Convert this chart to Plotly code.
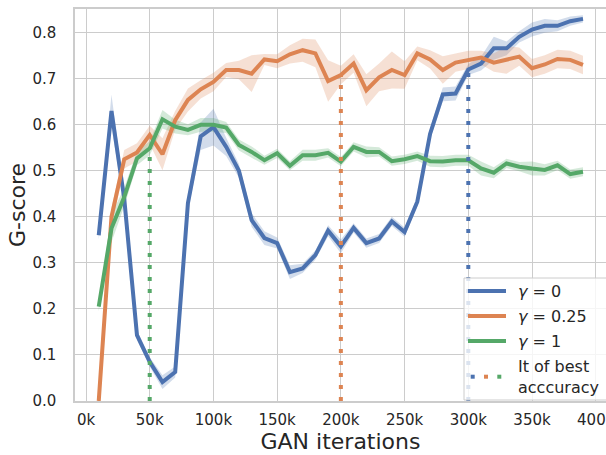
import plotly.graph_objects as go

iterations = [10000 * i for i in range(1, 40)]

g0 = [0.36, 0.63, 0.44, 0.143, 0.085, 0.041, 0.063, 0.43, 0.575, 0.595, 0.552, 0.50, 0.393,
      0.354, 0.343, 0.28, 0.288, 0.317, 0.37, 0.336, 0.376, 0.343, 0.353, 0.39, 0.367, 0.433,
      0.58, 0.666, 0.668, 0.72, 0.733, 0.766, 0.766, 0.791, 0.807, 0.815, 0.815, 0.825, 0.83]
g025 = [0.0, 0.40, 0.525, 0.54, 0.578, 0.536, 0.61, 0.654, 0.677, 0.693, 0.719, 0.719, 0.711,
        0.742, 0.738, 0.753, 0.762, 0.755, 0.695, 0.708, 0.733, 0.675, 0.703, 0.719, 0.708, 0.755,
        0.742, 0.719, 0.735, 0.741, 0.746, 0.735, 0.741, 0.748, 0.723, 0.731, 0.743, 0.741, 0.73]
g1 = [0.205, 0.375, 0.443, 0.527, 0.549, 0.612, 0.596, 0.589, 0.6, 0.6, 0.594, 0.556, 0.541,
      0.523, 0.538, 0.511, 0.534, 0.534, 0.539, 0.52, 0.552, 0.541, 0.541, 0.521, 0.525, 0.532,
      0.521, 0.52, 0.523, 0.523, 0.505, 0.496, 0.516, 0.509, 0.505, 0.502, 0.512, 0.493, 0.498]

g0_ci = [0.01, 0.035, 0.015, 0.01, 0.01, 0.015, 0.012, 0.015, 0.03, 0.04, 0.02, 0.015, 0.015,
         0.015, 0.012, 0.015, 0.01, 0.01, 0.012, 0.015, 0.01, 0.01, 0.01, 0.01, 0.01, 0.01,
         0.012, 0.015, 0.015, 0.012, 0.015, 0.025, 0.015, 0.012, 0.015, 0.015, 0.012, 0.01, 0.008]
g025_ci = [0.005, 0.02, 0.02, 0.02, 0.02, 0.035, 0.02, 0.025, 0.02, 0.02, 0.015, 0.02, 0.04,
           0.012, 0.015, 0.02, 0.025, 0.03, 0.045, 0.02, 0.02, 0.035, 0.03, 0.04, 0.03, 0.015,
           0.02, 0.03, 0.02, 0.02, 0.015, 0.02, 0.03, 0.02, 0.02, 0.02, 0.02, 0.02, 0.02]
g1_ci = [0.01, 0.03, 0.02, 0.015, 0.015, 0.02, 0.015, 0.012, 0.015, 0.015, 0.012, 0.012, 0.012,
         0.01, 0.01, 0.01, 0.012, 0.012, 0.01, 0.01, 0.01, 0.012, 0.01, 0.01, 0.01, 0.01,
         0.012, 0.012, 0.012, 0.012, 0.015, 0.012, 0.01, 0.01, 0.015, 0.012, 0.01, 0.01, 0.01]

labels = ["<i>γ</i> = 0", "<i>γ</i> = 0.25", "<i>γ</i> = 1"]
best_it = [300000, 200000, 50000]
best_label = "It of best<br>acccuracy"

x_tickvals = [0, 50000, 100000, 150000, 200000, 250000, 300000, 350000, 400000]
x_ticktext = ["0k", "50k", "100k", "150k", "200k", "250k", "300k", "350k", "400k"]
y_tickvals = [0.0, 0.1, 0.2, 0.3, 0.4, 0.5, 0.6, 0.7, 0.8]

colors = ["#4C72B0", "#DD8452", "#55A868"]
bands = ["rgba(76,114,176,0.25)", "rgba(221,132,82,0.25)", "rgba(85,168,104,0.25)"]
series = [g0, g025, g1]
cis = [g0_ci, g025_ci, g1_ci]

W, H = 606, 455
ML, MR, MT, MB = 75, 0, 9, 54
PW, PH = W - ML - MR, H - MT - MB

fig = go.Figure()

for s, ci, bc in zip(series, cis, bands):
    upper = [v + c for v, c in zip(s, ci)]
    lower = [v - c for v, c in zip(s, ci)]
    fig.add_trace(go.Scatter(x=iterations + iterations[::-1], y=upper + lower[::-1],
                             fill="toself", fillcolor=bc, line=dict(width=0),
                             mode="lines", hoverinfo="skip", showlegend=False))

for s, c, lab in zip(series, colors, labels):
    fig.add_trace(go.Scatter(x=iterations, y=s, mode="lines", name=lab,
                             line=dict(color=c, width=4), showlegend=False))

for s, c, it in zip(series, colors, best_it):
    v = s[iterations.index(it)]
    fig.add_trace(go.Scatter(x=[it, it], y=[0, v], mode="lines",
                             line=dict(color=c, width=4, dash="4px,8px"), showlegend=False))


def px(x):
    return (x - ML) / PW


def py(y):
    return (H - MB - y) / PH


# manual legend
shapes = []
shapes.append(dict(type="rect", xref="paper", yref="paper", layer="above",
                   x0=px(464), x1=px(612), y0=py(400), y1=py(278),
                   fillcolor="rgba(255,255,255,0.8)", line=dict(color="#cccccc", width=1)))
annotations = []
rows = [291, 316, 341]
for r, c, lab in zip(rows, colors, labels):
    shapes.append(dict(type="line", xref="paper", yref="paper", layer="above",
                       x0=px(468), x1=px(506), y0=py(r), y1=py(r),
                       line=dict(color=c, width=4)))
    annotations.append(dict(x=px(516), y=py(r), xref="paper", yref="paper", text=lab,
                            showarrow=False, xanchor="left", yanchor="middle",
                            font=dict(size=16, color="#262626", family="DejaVu Sans")))
for i, c in enumerate(colors):
    cx = 472.7 + 13.3 * i
    shapes.append(dict(type="rect", xref="paper", yref="paper", layer="above",
                       x0=px(cx - 2), x1=px(cx + 2), y0=py(378.7), y1=py(374.7),
                       fillcolor=c, line=dict(width=0)))
annotations.append(dict(x=px(516), y=py(377), xref="paper", yref="paper", text=best_label,
                        showarrow=False, xanchor="left", yanchor="middle", align="left",
                        font=dict(size=16, color="#262626", family="DejaVu Sans")))

fig.update_layout(
    width=W, height=H,
    margin=dict(l=ML, r=MR, t=MT, b=MB, pad=0, autoexpand=False),
    paper_bgcolor="white", plot_bgcolor="white",
    font=dict(family="DejaVu Sans", color="#262626"),
    shapes=shapes, annotations=annotations,
    showlegend=False,
)
fig.update_xaxes(range=[-8630, 408060], tickvals=x_tickvals, ticktext=x_ticktext,
                 showgrid=True, gridcolor="#cccccc", gridwidth=1.3,
                 showline=True, mirror=True, linecolor="#cccccc", linewidth=1.5,
                 zeroline=False, ticks="", ticklabelstandoff=4, ticklabeloverflow="allow",
                 automargin=False,
                 tickfont=dict(size=15, color="#262626"),
                 title=dict(text="GAN iterations", font=dict(size=22, color="#262626"), standoff=0))
fig.update_yaxes(range=[0, 0.8515], tickvals=y_tickvals, tickformat=".1f",
                 showgrid=True, gridcolor="#cccccc", gridwidth=1.3,
                 showline=True, mirror=True, linecolor="#cccccc", linewidth=1.5,
                 zeroline=False, ticks="", ticklabelstandoff=14, automargin=False,
                 tickfont=dict(size=15, color="#262626"),
                 title=dict(text="G-score", font=dict(size=22, color="#262626"), standoff=1))

fig.write_html("out.html")
